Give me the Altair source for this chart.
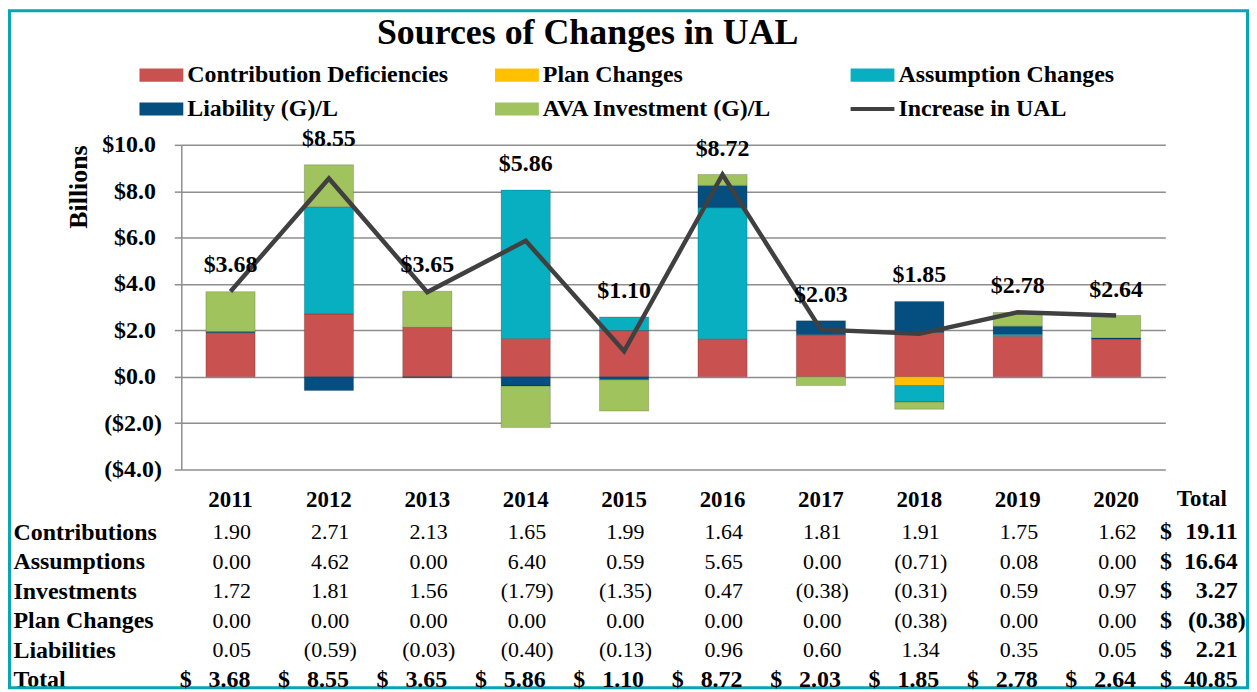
import altair as alt
import pandas as pd

# ---------------- data ----------------
years = ["2011", "2012", "2013", "2014", "2015", "2016", "2017", "2018", "2019", "2020"]
contributions = [1.90, 2.71, 2.13, 1.65, 1.99, 1.64, 1.81, 1.91, 1.75, 1.62]
assumptions = [0.00, 4.62, 0.00, 6.40, 0.59, 5.65, 0.00, -0.71, 0.08, 0.00]
investments = [1.72, 1.81, 1.56, -1.79, -1.35, 0.47, -0.38, -0.31, 0.59, 0.97]
plan_changes = [0.00, 0.00, 0.00, 0.00, 0.00, 0.00, 0.00, -0.38, 0.00, 0.00]
liabilities = [0.05, -0.59, -0.03, -0.40, -0.13, 0.96, 0.60, 1.34, 0.35, 0.05]
increase_in_ual = [3.68, 8.55, 3.65, 5.86, 1.10, 8.72, 2.03, 1.85, 2.78, 2.64]

row_labels = ["Contributions", "Assumptions", "Investments", "Plan Changes", "Liabilities", "Total"]
row_totals = [19.11, 16.64, 3.27, -0.38, 2.21, 40.85]

series_names = ["Contribution Deficiencies", "Plan Changes", "Assumption Changes",
                "Liability (G)/L", "AVA Investment (G)/L"]
line_name = "Increase in UAL"
title_text = "Sources of Changes in UAL"
y_ticks = [-4, -2, 0, 2, 4, 6, 8, 10]

# ---------------- styles ----------------
series_colors = ["#C9514F", "#FFC000", "#07AFC0", "#044F7F", "#A0C35E"]
line_color = "#404040"
border_color = "#0AA5B5"
grid_color = "#8E8E8E"
FONT = "Liberation Serif"
RECT_PATH = "M-1,-0.3H1V0.3H-1Z"
LINE_PATH = "M-1,0H1"


def acct(v):
    s = f"{abs(v):.2f}"
    return f"({s})" if v < 0 else s


# ---------------- tables built from the lists ----------------
series_values = [contributions, plan_changes, assumptions, liabilities, investments]
bar_rows = []
for k, (name, vals) in enumerate(zip(series_names, series_values)):
    for yr, v in zip(years, vals):
        if v != 0:
            bar_rows.append({"year": yr, "series": name, "value": v, "order": k})
bars_df = pd.DataFrame(bar_rows)

pos_top = [sum(max(v, 0) for v in col) for col in zip(*series_values)]
line_df = pd.DataFrame({
    "year": years,
    "total": increase_in_ual,
    "series": [line_name] * len(years),
    "label": [f"${v:.2f}" for v in increase_in_ual],
    "label_at": [max(t, p) for t, p in zip(increase_in_ual, pos_top)],
})

table_values = [contributions, assumptions, investments, plan_changes, liabilities]
cell_rows = []
for rname, vals in zip(row_labels[:5], table_values):
    for yr, v in zip(years, vals):
        cell_rows.append({"year": yr, "row": rname, "text": acct(v), "neg": v < 0})
cells_df = pd.DataFrame(cell_rows)

total_row_df = pd.DataFrame({
    "year": years,
    "row": ["Total"] * len(years),
    "text": [acct(v) for v in increase_in_ual],
    "neg": [v < 0 for v in increase_in_ual],
    "dollar": ["$"] * len(years),
})

total_col_df = pd.DataFrame({
    "row": row_labels,
    "text": [acct(v) for v in row_totals],
    "neg": [v < 0 for v in row_totals],
    "dollar": ["$"] * len(row_labels),
})
header_df = pd.DataFrame({"row": ["Contributions"], "text": ["Total"]})
frame_df = pd.DataFrame({"title": [title_text]})

# ---------------- encodings ----------------
x_enc = alt.X(
    "year:N",
    scale=alt.Scale(domain=years, paddingInner=0.5, paddingOuter=0.25),
    axis=alt.Axis(title=None, orient="bottom", domain=False, ticks=False, labelAngle=0,
                  labelFont=FONT, labelFontSize=23, labelFontWeight="bold", labelColor="black",
                  labelPadding=37, labelBaseline="alphabetic"),
)
x_2020 = alt.XDatum("2020", type="nominal")

y_scale = alt.Scale(domain=[-4, 10], nice=False, zero=False)
y_axis = alt.Axis(
    orient="left",
    values=y_ticks,
    labelExpr=("datum.value < 0 ? '($' + format(-datum.value, '.1f') + ')' : "
               "'$' + format(datum.value, '.1f')"),
    title="Billions", titleFont=FONT, titleFontSize=26, titleFontWeight="bold",
    titleColor="black", titleAnchor="end", titlePadding=10,
    grid=True, gridColor=grid_color, gridWidth=1.5,
    domain=True, domainColor=grid_color, domainWidth=1.5,
    ticks=True, tickSize=7, tickColor=grid_color, tickWidth=1.5,
    labelPadding=alt.ExprRef(expr="datum.value < 0 ? 13 : 19"),
    labelFont=FONT, labelFontSize=24, labelFontWeight="bold",
    labelColor="black",
)

is_line = "datum.value === '" + line_name + "'"
color_enc = alt.Color(
    "series:N",
    scale=alt.Scale(domain=series_names + [line_name], range=series_colors + [line_color]),
    legend=alt.Legend(
        title=None, orient="none", legendX=-32, legendY=-82, columns=3, direction="horizontal",
        gridAlign="all", columnPadding=39, rowPadding=10,
        symbolSize=1936,
        symbolType=alt.ExprRef(expr=is_line + " ? '" + LINE_PATH + "' : '" + RECT_PATH + "'"),
        symbolStrokeWidth=alt.ExprRef(expr=is_line + " ? 4 : 0"),
        symbolStrokeColor=line_color,
        symbolOpacity=1,
        labelFont=FONT, labelFontSize=24, labelFontWeight="bold", labelColor="black",
        labelLimit=400, labelOffset=14,
    ),
)

# ---------------- layers ----------------
frame = alt.Chart(frame_df).mark_rect(
    fill="white", fillOpacity=0, stroke=border_color, strokeWidth=3
).encode(x=alt.value(-172.5), x2=alt.value(1070.5), y=alt.value(-134.5), y2=alt.value(545))

title = alt.Chart(frame_df).mark_text(
    font=FONT, fontSize=36, fontWeight="bold", color="black", align="center",
    baseline="alphabetic"
).encode(x=alt.value(408), y=alt.value(-101), text="title:N")

bars = alt.Chart(bars_df).mark_bar(
    stroke="black", strokeOpacity=0.18, strokeWidth=1
).encode(
    x=x_enc,
    y=alt.Y("value:Q", stack="zero", scale=y_scale, axis=y_axis),
    color=color_enc,
    order=alt.Order("order:Q", sort="ascending"),
)

line = alt.Chart(line_df).mark_line(strokeWidth=4.5).encode(
    x=x_enc,
    y=alt.Y("total:Q", scale=y_scale, axis=None),
    color=alt.Color("series:N", legend=None),
)

line_labels = alt.Chart(line_df).mark_text(
    font=FONT, fontSize=24, fontWeight="bold", color="black", baseline="alphabetic", dy=-19
).encode(
    x=x_enc,
    y=alt.Y("label_at:Q", scale=y_scale, axis=None),
    text="label:N",
)

row_axis = alt.Axis(
    orient="left", title=None, domain=False, ticks=False, tickSize=0, grid=False,
    labelAlign="left", labelBaseline="alphabetic", labelPadding=169,
    labelFont=FONT, labelFontSize=24, labelFontWeight="bold", labelColor="black",
    labelLimit=300,
)
row_scale = alt.Scale(type="point", domain=row_labels, range=[396, 544], padding=0)
y_row = alt.Y("row:N", scale=row_scale, axis=row_axis)
y_row_plain = alt.Y("row:N", scale=row_scale, axis=None)

POS = "!datum.neg"
NEG = "datum.neg"

cells_pos = alt.Chart(cells_df).transform_filter(POS).mark_text(
    font=FONT, fontSize=22, color="black", align="right", baseline="alphabetic", dx=20.5
).encode(x=x_enc, y=y_row, text="text:N")

cells_neg = alt.Chart(cells_df).transform_filter(NEG).mark_text(
    font=FONT, fontSize=22, color="black", align="right", baseline="alphabetic", dx=28
).encode(x=x_enc, y=y_row_plain, text="text:N")

total_nums = alt.Chart(total_row_df).transform_filter(POS).mark_text(
    font=FONT, fontSize=24, fontWeight="bold", color="black", align="right",
    baseline="alphabetic", dx=20
).encode(x=x_enc, y=y_row_plain, text="text:N")

total_dollars = alt.Chart(total_row_df).mark_text(
    font=FONT, fontSize=24, fontWeight="bold", color="black", align="left",
    baseline="alphabetic", dx=-51
).encode(x=x_enc, y=y_row_plain, text="dollar:N")

col_nums_pos = alt.Chart(total_col_df).transform_filter(POS).mark_text(
    font=FONT, fontSize=24, fontWeight="bold", color="black", align="right",
    baseline="alphabetic", dx=122
).encode(x=x_2020, y=y_row_plain, text="text:N")

col_nums_neg = alt.Chart(total_col_df).transform_filter(NEG).mark_text(
    font=FONT, fontSize=24, fontWeight="bold", color="black", align="right",
    baseline="alphabetic", dx=130
).encode(x=x_2020, y=y_row_plain, text="text:N")

col_dollars = alt.Chart(total_col_df).mark_text(
    font=FONT, fontSize=24, fontWeight="bold", color="black", align="left",
    baseline="alphabetic", dx=44
).encode(x=x_2020, y=y_row_plain, text="dollar:N")

col_header = alt.Chart(header_df).mark_text(
    font=FONT, fontSize=23, fontWeight="bold", color="black", align="center",
    baseline="alphabetic", dx=86, dy=-33
).encode(x=x_2020, y=y_row_plain, text="text:N")

chart = alt.layer(
    frame, title, bars, line, line_labels,
    cells_pos, cells_neg, total_nums, total_dollars,
    col_nums_pos, col_nums_neg, col_dollars, col_header,
).resolve_scale(y="independent").properties(
    width=988,
    height=326,
    padding=0,
).configure_view(stroke="transparent")

chart.save("out.html", embed_options={"renderer": "svg", "actions": False})
